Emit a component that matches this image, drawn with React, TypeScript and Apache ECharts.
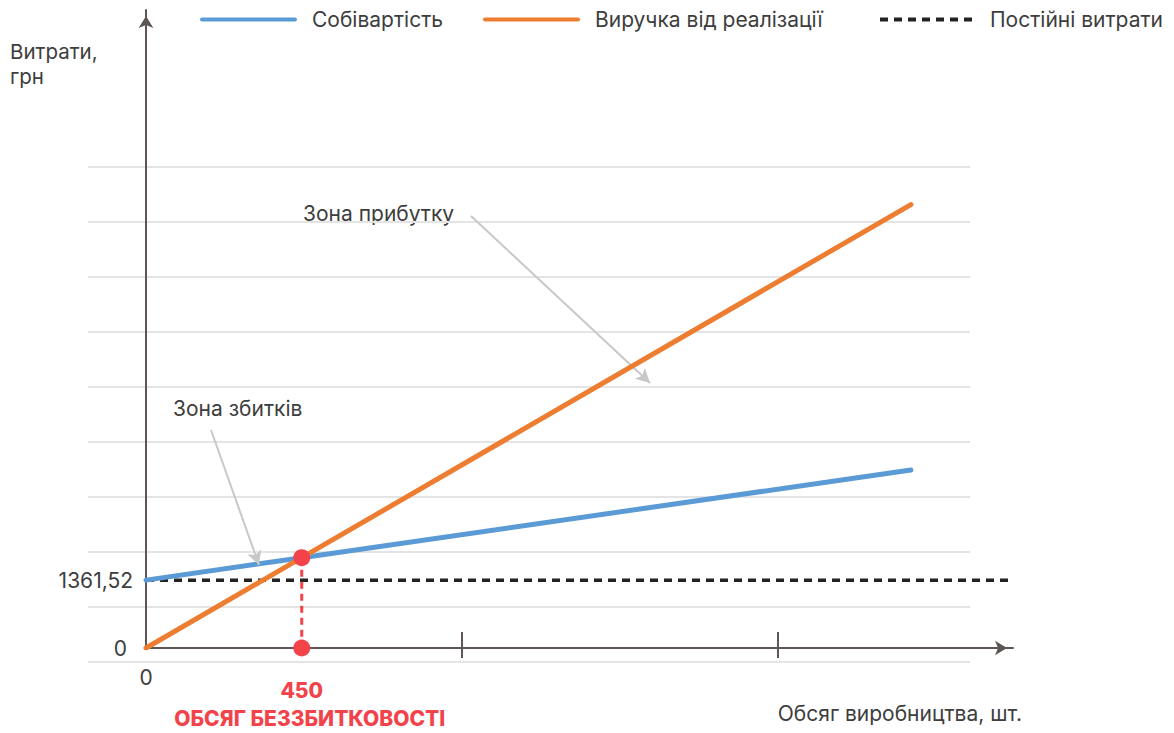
import React, { useEffect, useRef } from "react";
import * as echarts from "echarts";

const legendNames = ["Собівартість", "Виручка від реалізації", "Постійні витрати"];
const volumes = [0, 450, 2210];
const costValues = [1361.52, 1811.52, 3571.52];
const revenueValues = [0, 1811.52, 8896];
const fixedX = [0, 2500];
const fixedValues = [1361.52, 1361.52];
const breakEvenX = 450;
const breakEvenY = [1811.52, 0];
const xTickValues = [912, 1824];
const xLabelValues = [0];
const yLabelValues = [0, 1361.52];

const FONT = "Inter";
const TEXT = "#3d3d3d";
const AXIS = "#5e5555";
const RED = "#f2434b";
const FS = 21;

export default function App() {
  const ref = useRef<HTMLDivElement>(null);
  useEffect(() => {
    if (!ref.current) return;
    const chart = echarts.init(ref.current, null, { renderer: "svg" });
    const pair = (xs: number[], ys: number[]) => xs.map((x, i) => [x, ys[i]]);
    const option: any = {
      animation: false,
      textStyle: { fontFamily: FONT },
      grid: [
        { left: 146, right: 161, top: 10, bottom: 85 },
        { left: 88, right: 204, top: 166.7, bottom: 71 },
      ],
      legend: legendNames.map((n, i) => ({
        data: [n],
        left: [200, 483, 878][i],
        top: 9,
        padding: 0,
        itemWidth: 93,
        itemHeight: 18,
        selectedMode: false,
        itemStyle: { opacity: 0, borderWidth: 0 },
        lineStyle: { width: 4 },
        textStyle: { fontFamily: FONT, fontSize: FS, color: TEXT, padding: [0, 0, 0, 12] },
      })),
      xAxis: [
        {
          type: "value",
          gridIndex: 0,
          min: 0,
          max: 2505,
          position: "bottom",
          splitLine: { show: false },
          axisLine: {
            show: true,
            onZero: false,
            lineStyle: { color: AXIS, width: 2 },
            symbol: ["none", "arrow"],
            symbolSize: [11, 12],
            symbolOffset: [0, -6],
          },
          axisTick: { show: true, customValues: xTickValues, length: 10, lineStyle: { color: AXIS, width: 2 } },
          axisLabel: {
            customValues: xLabelValues,
            margin: 19,
            fontSize: FS,
            color: TEXT,
            fontFamily: FONT,
            formatter: (v: number) => String(v),
          },
        },
        {
          type: "value",
          gridIndex: 0,
          min: 0,
          max: 2505,
          position: "bottom",
          offset: 0,
          splitLine: { show: false },
          axisLine: { show: false },
          axisTick: { show: true, inside: true, customValues: xTickValues, length: 16, lineStyle: { color: AXIS, width: 2 } },
          axisLabel: { show: false },
        },
        { type: "value", gridIndex: 1, min: 0, max: 1, show: false },
      ],
      yAxis: [
        {
          type: "value",
          gridIndex: 0,
          min: 0,
          max: 12800,
          splitLine: { show: false },
          axisLine: {
            show: true,
            onZero: false,
            lineStyle: { color: AXIS, width: 2 },
            symbol: ["none", "arrow"],
            symbolSize: [11, 12],
            symbolOffset: [0, -6],
          },
          axisTick: { show: false },
          axisLabel: {
            customValues: yLabelValues,
            margin: 13,
            fontSize: FS,
            color: TEXT,
            fontFamily: FONT,
            formatter: (v: number) => (v === 0 ? "{z|0}" : String(v).replace(".", ",")),
            rich: { z: { fontSize: FS, color: TEXT, fontFamily: FONT, padding: [0, 6, 0, 0] } },
          },
        },
        {
          type: "value",
          gridIndex: 1,
          min: 0,
          max: 9,
          interval: 1,
          axisLine: { show: false },
          axisTick: { show: false },
          axisLabel: { show: false },
          splitLine: { show: true, lineStyle: { color: "#e4e4e4", width: 2 } },
        },
      ],
      series: [
        {
          name: legendNames[2],
          type: "line",
          xAxisIndex: 0,
          yAxisIndex: 0,
          data: pair(fixedX, fixedValues),
          symbol: "none",
          z: 3,
          lineStyle: { color: "#222222", width: 3.5, type: [8, 6] },
          itemStyle: { color: "#222222" },
          markLine: {
            silent: true,
            symbol: ["none", "arrow"],
            symbolSize: [11, 14],
            label: { show: false },
            lineStyle: { color: "#c8c8c8", width: 2, type: "solid" },
            data: [
              [{ x: 471, y: 216 }, { x: 650, y: 383 }],
              [{ x: 211, y: 430 }, { x: 259, y: 565 }],
            ],
          },
        },
        {
          name: legendNames[0],
          type: "line",
          xAxisIndex: 0,
          yAxisIndex: 0,
          data: pair(volumes, costValues),
          symbol: "none",
          z: 4,
          lineStyle: { color: "#5b9bd5", width: 5, cap: "round" },
          itemStyle: { color: "#5b9bd5" },
        },
        {
          name: legendNames[1],
          type: "line",
          xAxisIndex: 0,
          yAxisIndex: 0,
          data: pair(volumes, revenueValues),
          symbol: "none",
          z: 5,
          lineStyle: { color: "#ed7d31", width: 5, cap: "round" },
          itemStyle: { color: "#ed7d31" },
        },
        {
          name: "break-even",
          type: "line",
          xAxisIndex: 0,
          yAxisIndex: 0,
          data: [
            { value: [breakEvenX, breakEvenY[0]] },
            {
              value: [breakEvenX, breakEvenY[1]],
              label: {
                show: true,
                position: "bottom",
                distance: 20,
                formatter: "{a|" + breakEvenX + "}\n{b|ОБСЯГ БЕЗЗБИТКОВОСТІ}",
                rich: {
                  a: { fontFamily: FONT, fontSize: FS, fontWeight: 800, color: RED, lineHeight: 28, align: "center" },
                  b: {
                    fontFamily: FONT,
                    fontSize: FS,
                    fontWeight: 800,
                    color: RED,
                    lineHeight: 28,
                    align: "center",
                    padding: [0, 0, 0, 16],
                  },
                },
              },
            },
          ],
          symbol: "circle",
          symbolSize: 17,
          z: 6,
          lineStyle: { color: RED, width: 3, type: [7, 5] },
          itemStyle: { color: RED },
        },
      ],
      graphic: [
        {
          type: "text",
          left: 10,
          top: 39,
          style: { text: "Витрати,\nгрн", fontFamily: FONT, fontSize: 20.5, lineHeight: 25, fill: TEXT },
        },
        {
          type: "text",
          right: 152,
          top: 703,
          style: { text: "Обсяг виробництва, шт.", fontFamily: FONT, fontSize: FS, fill: TEXT },
        },
        {
          type: "text",
          left: 303,
          top: 203,
          style: { text: "Зона прибутку", fontFamily: FONT, fontSize: FS, fill: TEXT },
        },
        {
          type: "text",
          left: 173,
          top: 398,
          style: { text: "Зона збитків", fontFamily: FONT, fontSize: FS, fill: TEXT },
        },
      ],
    };
    chart.setOption(option);
    return () => chart.dispose();
  }, []);
  return (
    <div
      ref={ref}
      style={{ position: "absolute", left: 0, top: 0, width: 1174, height: 733, background: "#fff" }}
    />
  );
}
